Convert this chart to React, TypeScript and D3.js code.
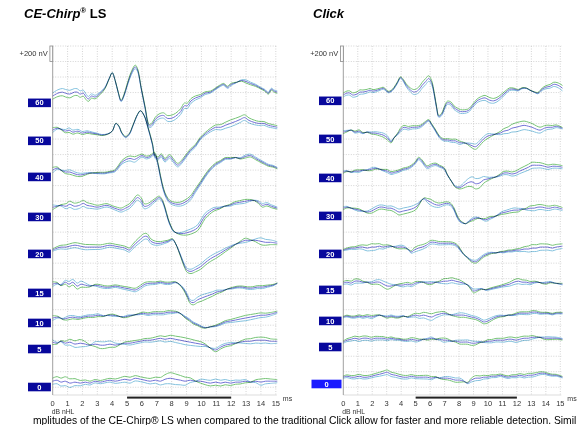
import React from 'react';
import * as d3 from 'd3';

type Pt = [number, number]; // [ms, nV]

const levels = ['60', '50', '40', '30', '20', '15', '10', '5', '0'];
const msTicks = [0, 1, 2, 3, 4, 5, 6, 7, 8, 9, 10, 11, 12, 13, 14, 15];
const markedWindow = [5, 12];

// baseline of each level (nV above the bottom of the plot)
const chirpBaselines = [3767, 3277, 2812, 2296, 1819, 1316, 929, 593, 103];
const clickBaselines = [3793, 3302, 2799, 2309, 1819, 1355, 955, 619, 142];

// CE-Chirp LS averages
const chirp60: Pt[] = [[0, 88], [0.35, 125], [0.65, 138], [0.85, 125], [1.15, 113], [1.45, 138], [1.65, 138], [1.85, 113], [2.05, 125], [2.25, 75], [2.4, 50], [2.6, 88], [2.85, 75], [3.2, 125], [3.5, 188], [3.8, 313], [4.0, 388], [4.2, 288], [4.4, 138], [4.6, 25], [4.8, 100], [5.0, 225], [5.3, 388], [5.55, 463], [5.7, 425], [5.95, 188], [6.2, -50], [6.5, -300], [6.7, -275], [6.9, -213], [7.15, -175], [7.45, -163], [7.7, -200], [7.95, -200], [8.25, -175], [8.6, -113], [8.85, -38], [9.05, -38], [9.3, 25], [9.6, 63], [9.95, 88], [10.25, 125], [10.6, 138], [10.9, 175], [11.2, 213], [11.5, 238], [11.75, 200], [12.0, 238], [12.35, 263], [12.7, 288], [13.0, 275], [13.3, 250], [13.65, 225], [14.0, 188], [14.25, 163], [14.5, 125], [14.7, 175], [14.9, 150], [15.1, 138]];
const chirp50: Pt[] = [[0, 138], [0.3, 163], [0.55, 150], [0.85, 125], [1.1, 138], [1.35, 113], [1.7, 125], [2.0, 100], [2.3, 113], [2.65, 100], [3.0, 88], [3.3, 75], [3.7, 88], [4.0, 125], [4.25, 225], [4.45, 188], [4.65, 100], [4.9, 50], [5.15, 88], [5.4, 200], [5.7, 338], [5.9, 388], [6.15, 325], [6.4, 175], [6.7, -38], [6.9, -213], [7.1, -225], [7.3, -188], [7.55, -250], [7.85, -200], [8.1, -250], [8.4, -313], [8.65, -275], [8.9, -213], [9.25, -125], [9.6, -63], [9.9, 25], [10.25, 88], [10.6, 138], [10.95, 175], [11.3, 175], [11.6, 200], [11.95, 225], [12.3, 250], [12.6, 275], [12.9, 300], [13.2, 263], [13.55, 238], [13.85, 225], [14.2, 225], [14.5, 200], [14.8, 188], [15.1, 175]];
const chirp40: Pt[] = [[0, 88], [0.3, 113], [0.55, 88], [0.85, 63], [1.15, 63], [1.5, 38], [1.85, 25], [2.2, 38], [2.5, 50], [2.85, 50], [3.2, 50], [3.5, 50], [3.85, 63], [4.15, 75], [4.4, 125], [4.65, 188], [4.95, 225], [5.2, 238], [5.5, 225], [5.75, 250], [6.0, 275], [6.3, 250], [6.55, 263], [6.85, 300], [7.05, 188], [7.25, 0], [7.45, -163], [7.65, -263], [7.9, -325], [8.25, -350], [8.6, -350], [8.9, -325], [9.25, -275], [9.6, -175], [9.95, -75], [10.25, 13], [10.6, 100], [10.95, 163], [11.3, 200], [11.6, 238], [11.95, 238], [12.3, 250], [12.6, 238], [12.95, 263], [13.3, 275], [13.65, 238], [14.0, 200], [14.25, 175], [14.5, 150], [14.8, 138], [15.1, 113]];
const chirp30: Pt[] = [[0, 125], [0.3, 138], [0.55, 150], [0.9, 138], [1.15, 163], [1.45, 138], [1.8, 150], [2.05, 175], [2.3, 150], [2.65, 138], [3.0, 125], [3.3, 138], [3.65, 150], [4.0, 125], [4.35, 100], [4.6, 88], [4.9, 113], [5.15, 138], [5.4, 188], [5.7, 250], [5.95, 213], [6.15, 138], [6.45, 150], [6.7, 188], [6.95, 225], [7.15, 250], [7.35, 213], [7.55, 113], [7.75, -25], [7.95, -125], [8.15, -188], [8.45, -213], [8.8, -213], [9.1, -200], [9.45, -175], [9.75, -138], [10.0, -63], [10.25, 13], [10.55, 63], [10.85, 100], [11.2, 113], [11.55, 138], [11.9, 150], [12.2, 175], [12.55, 188], [12.9, 200], [13.25, 213], [13.55, 213], [13.85, 188], [14.1, 150], [14.4, 163], [14.7, 138], [15.1, 113]];
const chirp20: Pt[] = [[0, 50], [0.3, 75], [0.55, 88], [0.9, 88], [1.15, 100], [1.5, 113], [1.85, 100], [2.2, 88], [2.5, 88], [2.85, 88], [3.2, 88], [3.5, 100], [3.85, 113], [4.2, 100], [4.55, 88], [4.85, 75], [5.15, 50], [5.35, 88], [5.6, 138], [5.9, 188], [6.15, 225], [6.35, 225], [6.6, 163], [6.9, 138], [7.25, 138], [7.5, 150], [7.75, 163], [8.05, 188], [8.25, 138], [8.45, 50], [8.65, -50], [8.85, -150], [9.05, -213], [9.3, -225], [9.6, -200], [9.95, -163], [10.25, -113], [10.6, -63], [10.95, -25], [11.3, 13], [11.6, 50], [11.95, 88], [12.3, 125], [12.6, 150], [12.95, 175], [13.3, 175], [13.65, 175], [14.0, 163], [14.3, 150], [14.65, 150], [15.1, 138]];
const chirp15: Pt[] = [[0, 113], [0.3, 125], [0.55, 100], [0.85, 138], [1.1, 113], [1.35, 138], [1.65, 88], [1.9, 113], [2.2, 100], [2.5, 88], [2.85, 100], [3.2, 88], [3.5, 75], [3.85, 75], [4.2, 88], [4.55, 75], [4.85, 63], [5.2, 50], [5.55, 38], [5.9, 75], [6.2, 113], [6.55, 125], [6.9, 125], [7.25, 138], [7.55, 125], [7.9, 125], [8.25, 138], [8.5, 113], [8.8, 50], [9.05, -38], [9.25, -113], [9.45, -125], [9.75, -88], [10.05, -63], [10.4, -38], [10.75, -13], [11.05, 13], [11.4, 25], [11.75, 50], [12.1, 63], [12.4, 75], [12.75, 75], [13.1, 63], [13.45, 63], [13.75, 75], [14.1, 75], [14.45, 88], [14.8, 100], [15.1, 125]];
const chirp10: Pt[] = [[0, 63], [0.35, 75], [0.7, 50], [1.0, 63], [1.35, 75], [1.7, 63], [2.05, 75], [2.4, 88], [2.7, 88], [3.05, 100], [3.4, 88], [3.7, 100], [4.05, 100], [4.4, 88], [4.75, 75], [5.05, 88], [5.4, 100], [5.75, 113], [6.1, 125], [6.4, 113], [6.75, 125], [7.1, 125], [7.45, 125], [7.75, 138], [8.1, 138], [8.4, 138], [8.65, 113], [8.9, 75], [9.2, 38], [9.45, 0], [9.75, -25], [10.0, -50], [10.25, -63], [10.6, -50], [10.95, -38], [11.3, -13], [11.6, 13], [11.95, 25], [12.3, 38], [12.6, 50], [12.95, 63], [13.3, 75], [13.65, 88], [14.0, 100], [14.3, 100], [14.65, 113], [15.1, 138]];
const chirp5: Pt[] = [[0, 88], [0.3, 75], [0.55, 100], [0.85, 75], [1.15, 88], [1.5, 63], [1.85, 75], [2.2, 63], [2.5, 50], [2.85, 63], [3.2, 50], [3.5, 50], [3.85, 63], [4.2, 50], [4.55, 63], [4.85, 75], [5.2, 75], [5.55, 88], [5.9, 100], [6.2, 113], [6.55, 113], [6.9, 125], [7.25, 138], [7.55, 125], [7.9, 138], [8.25, 125], [8.6, 113], [8.9, 100], [9.25, 88], [9.6, 75], [9.95, 63], [10.25, 50], [10.6, 13], [10.95, -13], [11.3, 25], [11.6, 50], [11.95, 63], [12.3, 75], [12.6, 88], [12.95, 100], [13.3, 100], [13.65, 113], [14.0, 113], [14.3, 113], [14.65, 100], [15.1, 100]];
const chirp0: Pt[] = [[0, 75], [0.3, 88], [0.55, 63], [0.85, 75], [1.15, 50], [1.5, 63], [1.85, 50], [2.2, 63], [2.5, 50], [2.85, 75], [3.2, 63], [3.5, 75], [3.85, 88], [4.2, 75], [4.55, 88], [4.85, 100], [5.2, 88], [5.55, 113], [5.9, 100], [6.2, 88], [6.55, 75], [6.9, 88], [7.25, 75], [7.55, 100], [7.9, 113], [8.25, 100], [8.6, 88], [8.9, 75], [9.25, 88], [9.6, 75], [9.95, 75], [10.25, 63], [10.6, 50], [10.95, 63], [11.3, 50], [11.6, 63], [11.95, 50], [12.3, 63], [12.6, 63], [12.95, 75], [13.3, 63], [13.65, 75], [14.0, 63], [14.3, 75], [14.65, 75], [15.1, 75]];

// half-difference between the two sub-averages (green above, cyan below when positive)
const chirpSpreads: Pt[][] = [
  [[0, -40], [1, -50], [2, -40], [3, -20], [4, 0], [5, 15], [5.5, 25], [6, 10], [7, 30], [8, 40], [9, 35], [10, 20], [11, 10], [12, 15], [13, -20], [14, -10], [15.1, -15]],
  [[0, 30], [1, -30], [2, -20], [3, -10], [4, 0], [5, 10], [6, 0], [7, 20], [8, 25], [9, 20], [10, 15], [11, 30], [12, 45], [13, 35], [14, 25], [15.1, 20]],
  [[0, 35], [1, -30], [2, -20], [3, 10], [4, 10], [5, 30], [5.5, 35], [6, 20], [7, 15], [8, 20], [9, 30], [10, 20], [11, 15], [12, 10], [13, -20], [14, -15], [15.1, -10]],
  [[0, -30], [1, 40], [2, 40], [3, 25], [4, 20], [5, 30], [6, 35], [7, 20], [8, 10], [9, -30], [10, -40], [11, -20], [12, 15], [13, 25], [14, -25], [15.1, -15]],
  [[0, 15], [1, 30], [2, 35], [3, 30], [4, 25], [5, 25], [6, 40], [7, 25], [8, 10], [9, -25], [10, -35], [11, -35], [12, -15], [13, 30], [14, -45], [15.1, -20]],
  [[0, 30], [1, -35], [2, -40], [3, 20], [4, 15], [5, 20], [6, 25], [7, 15], [8, 15], [9, -20], [10, -40], [11, -25], [12, 10], [13, 15], [14, 20], [15.1, 5]],
  [[0, 30], [1, -25], [2, -15], [3, -20], [4, 15], [5, -15], [6, 15], [7, 20], [8, 20], [9, -15], [10, -10], [11, 10], [12, 20], [13, 35], [14, 30], [15.1, 15]],
  [[0, -30], [1, 35], [2, 50], [3, -45], [4, -40], [5, 25], [6, 20], [7, 30], [8, 40], [9, 45], [10, 30], [11, -25], [12, -20], [13, 30], [14, 40], [15.1, 25]],
  [[0, 40], [1, 60], [2, 30], [3, 20], [4, 25], [5, 40], [6, 30], [7, 40], [8, 75], [9, 50], [10, -30], [11, -40], [12, -30], [13, -20], [14, 40], [15.1, 20]],
];

// Click averages
const click60: Pt[] = [[0, 75], [0.25, 100], [0.45, 100], [0.65, 75], [0.95, 88], [1.15, 113], [1.35, 113], [1.65, 125], [1.85, 138], [2.05, 125], [2.35, 138], [2.55, 150], [2.75, 163], [2.95, 138], [3.1, 113], [3.3, 125], [3.5, 163], [3.75, 238], [3.95, 300], [4.15, 263], [4.35, 200], [4.65, 138], [4.9, 113], [5.2, 138], [5.45, 200], [5.7, 250], [5.9, 288], [6.1, 238], [6.3, 75], [6.45, -88], [6.6, -200], [6.8, -175], [7.0, -88], [7.2, -25], [7.45, -38], [7.65, -88], [7.85, -113], [8.1, -138], [8.4, -138], [8.65, -125], [8.95, -63], [9.25, 0], [9.5, 25], [9.8, 38], [10.05, 13], [10.4, 0], [10.7, 25], [10.95, 63], [11.25, 113], [11.5, 150], [11.8, 150], [12.1, 138], [12.35, 163], [12.65, 163], [12.9, 138], [13.2, 113], [13.45, 100], [13.75, 150], [14.0, 175], [14.3, 188], [14.55, 213], [14.85, 200], [15.15, 163]];
const click50: Pt[] = [[0, 88], [0.25, 100], [0.55, 113], [0.8, 88], [1.1, 100], [1.35, 75], [1.65, 88], [1.95, 75], [2.2, 75], [2.5, 63], [2.75, 50], [3.05, 13], [3.3, -38], [3.5, 13], [3.75, 63], [4.0, 125], [4.2, 150], [4.5, 138], [4.8, 150], [5.05, 150], [5.35, 163], [5.6, 200], [5.9, 238], [6.1, 188], [6.4, 100], [6.65, 25], [6.95, -13], [7.2, -13], [7.5, -25], [7.75, -25], [8.05, -50], [8.3, -50], [8.6, -63], [8.9, -88], [9.15, -100], [9.45, -50], [9.7, 0], [10.0, 38], [10.25, 50], [10.55, 63], [10.85, 75], [11.1, 100], [11.4, 113], [11.65, 138], [11.95, 150], [12.2, 163], [12.5, 175], [12.8, 163], [13.05, 150], [13.35, 125], [13.6, 113], [13.9, 138], [14.15, 150], [14.45, 150], [14.7, 163], [15.15, 138]];
const click40: Pt[] = [[0, 75], [0.25, 88], [0.55, 75], [0.8, 88], [1.1, 88], [1.35, 100], [1.65, 100], [1.95, 113], [2.2, 125], [2.5, 113], [2.75, 100], [3.05, 88], [3.3, 63], [3.6, 75], [3.85, 88], [4.15, 113], [4.45, 125], [4.7, 150], [5.0, 200], [5.2, 250], [5.4, 225], [5.6, 175], [5.8, 138], [6.1, 163], [6.4, 175], [6.65, 150], [6.95, 125], [7.2, 38], [7.5, -50], [7.75, -113], [8.05, -125], [8.3, -100], [8.6, -63], [8.9, -50], [9.15, -75], [9.45, -63], [9.7, -25], [10.0, -13], [10.25, 0], [10.55, 13], [10.85, 38], [11.1, 63], [11.4, 63], [11.65, 50], [11.95, 63], [12.2, 88], [12.5, 113], [12.8, 138], [13.05, 163], [13.35, 163], [13.6, 163], [13.9, 150], [14.15, 138], [14.45, 150], [14.7, 150], [15.15, 138]];
const click30: Pt[] = [[0, 100], [0.25, 113], [0.55, 100], [0.8, 88], [1.1, 75], [1.35, 63], [1.65, 50], [1.95, 63], [2.2, 88], [2.5, 113], [2.75, 113], [3.05, 100], [3.3, 100], [3.6, 75], [3.85, 50], [4.15, 63], [4.45, 75], [4.7, 88], [5.0, 113], [5.2, 150], [5.4, 200], [5.6, 225], [5.8, 200], [6.05, 175], [6.3, 150], [6.6, 138], [6.85, 150], [7.15, 163], [7.4, 150], [7.65, 88], [7.85, 0], [8.05, -63], [8.25, -88], [8.45, -100], [8.75, -63], [9.0, -38], [9.3, -25], [9.55, -38], [9.85, -50], [10.15, -25], [10.4, -13], [10.7, 13], [10.95, 38], [11.25, 50], [11.5, 63], [11.8, 75], [12.1, 75], [12.35, 88], [12.65, 88], [12.9, 100], [13.2, 100], [13.45, 113], [13.75, 113], [14.05, 100], [14.3, 100], [14.6, 113], [15.15, 88]];
const click20: Pt[] = [[0, 50], [0.25, 63], [0.55, 75], [0.8, 75], [1.1, 88], [1.35, 88], [1.65, 75], [1.95, 88], [2.2, 88], [2.5, 100], [2.75, 88], [3.05, 100], [3.3, 100], [3.6, 88], [3.85, 88], [4.15, 88], [4.45, 63], [4.7, 25], [4.9, 50], [5.2, 75], [5.45, 88], [5.75, 113], [6.05, 150], [6.3, 150], [6.6, 138], [6.85, 138], [7.15, 138], [7.4, 138], [7.7, 125], [7.9, 100], [8.1, 50], [8.3, 0], [8.6, -50], [8.85, -88], [9.15, -100], [9.45, -63], [9.7, -25], [10.0, 0], [10.25, 13], [10.55, 13], [10.85, 25], [11.1, 25], [11.4, 38], [11.65, 38], [11.95, 50], [12.2, 50], [12.5, 63], [12.8, 63], [13.05, 75], [13.35, 75], [13.6, 88], [13.9, 88], [14.15, 88], [14.45, 75], [14.7, 88], [15.15, 100]];
const click15: Pt[] = [[0, 88], [0.25, 100], [0.55, 88], [0.8, 113], [1.1, 113], [1.35, 100], [1.65, 100], [1.95, 88], [2.2, 100], [2.5, 100], [2.75, 75], [3.05, 50], [3.3, 50], [3.6, 63], [3.85, 63], [4.15, 63], [4.45, 75], [4.7, 63], [5.0, 88], [5.25, 100], [5.55, 100], [5.8, 88], [6.1, 88], [6.4, 100], [6.65, 100], [6.95, 113], [7.2, 113], [7.5, 125], [7.75, 113], [8.05, 100], [8.3, 88], [8.6, 63], [8.8, 25], [9.0, -13], [9.3, 0], [9.55, 13], [9.85, 0], [10.15, 13], [10.4, 25], [10.7, 38], [10.95, 50], [11.25, 63], [11.5, 75], [11.8, 100], [12.1, 113], [12.35, 100], [12.65, 100], [12.9, 88], [13.2, 100], [13.45, 100], [13.75, 88], [14.05, 88], [14.3, 100], [14.6, 88], [15.15, 75]];
const click10: Pt[] = [[0, 50], [0.25, 63], [0.55, 50], [0.8, 50], [1.1, 63], [1.35, 50], [1.65, 63], [1.95, 50], [2.2, 63], [2.5, 75], [2.75, 63], [3.05, 50], [3.3, 63], [3.6, 50], [3.85, 50], [4.15, 63], [4.45, 50], [4.7, 63], [5.0, 75], [5.25, 63], [5.55, 75], [5.8, 63], [6.1, 50], [6.4, 75], [6.65, 88], [6.95, 100], [7.2, 88], [7.5, 75], [7.75, 75], [8.05, 75], [8.3, 75], [8.6, 63], [8.85, 50], [9.15, 38], [9.45, 13], [9.7, -13], [10.0, 0], [10.25, 25], [10.55, 50], [10.85, 63], [11.1, 63], [11.4, 75], [11.65, 75], [11.95, 88], [12.2, 100], [12.5, 100], [12.8, 100], [13.05, 113], [13.35, 113], [13.6, 100], [13.9, 100], [14.15, 100], [14.45, 88], [14.7, 100], [15.15, 100]];
const click5: Pt[] = [[0, 63], [0.25, 88], [0.55, 100], [0.8, 113], [1.1, 100], [1.35, 113], [1.65, 113], [1.95, 100], [2.2, 113], [2.5, 113], [2.75, 113], [3.05, 100], [3.3, 113], [3.6, 100], [3.85, 100], [4.15, 88], [4.45, 88], [4.7, 100], [5.0, 88], [5.25, 88], [5.55, 100], [5.8, 100], [6.1, 113], [6.4, 100], [6.65, 100], [6.95, 88], [7.2, 88], [7.5, 75], [7.75, 75], [8.05, 63], [8.3, 63], [8.6, 63], [8.85, 50], [9.15, 50], [9.45, 63], [9.7, 63], [10.0, 75], [10.25, 75], [10.55, 88], [10.85, 88], [11.1, 88], [11.4, 100], [11.65, 100], [11.95, 88], [12.2, 100], [12.5, 113], [12.8, 113], [13.05, 125], [13.35, 125], [13.6, 125], [13.9, 113], [14.15, 113], [14.45, 113], [14.7, 113], [15.15, 100]];
const click0: Pt[] = [[0, 88], [0.25, 100], [0.55, 88], [0.8, 88], [1.1, 100], [1.35, 88], [1.65, 88], [1.95, 100], [2.2, 113], [2.5, 125], [2.75, 138], [3.05, 150], [3.3, 125], [3.6, 113], [3.85, 100], [4.15, 88], [4.45, 88], [4.7, 100], [5.0, 88], [5.25, 88], [5.55, 88], [5.8, 88], [6.1, 75], [6.4, 88], [6.65, 75], [6.95, 75], [7.2, 75], [7.5, 63], [7.75, 50], [8.05, 50], [8.3, 38], [8.6, 13], [8.85, 50], [9.15, 75], [9.45, 75], [9.7, 88], [10.0, 88], [10.25, 100], [10.55, 100], [10.85, 113], [11.1, 100], [11.4, 88], [11.65, 100], [11.95, 100], [12.2, 113], [12.5, 100], [12.8, 113], [13.05, 113], [13.35, 125], [13.6, 138], [13.9, 138], [14.15, 125], [14.45, 113], [14.7, 113], [15.15, 88]];

const clickSpreads: Pt[][] = [
  [[0, 25], [1, 30], [2, 20], [3, 10], [4, 10], [5, 35], [5.8, 40], [6.5, 10], [7, 20], [8, 25], [9, 20], [10, 35], [11, 25], [12, 10], [13, 0], [14, 20], [15.15, 35]],
  [[0, -20], [1, 20], [2, -15], [3, -30], [4, 25], [5, 20], [6, 10], [7, 15], [8, 25], [9, -35], [10, -30], [11, 30], [12, 60], [13, 50], [14, 30], [15.15, 10]],
  [[0, -15], [1, 20], [2, -20], [3, 20], [4, 15], [5, 15], [6, 20], [7, 10], [8, -15], [9, -70], [9.5, -60], [10, -20], [11, 20], [12, 30], [13, 40], [14, 30], [15.15, 20]],
  [[0, -20], [1, 20], [2, -30], [3, -25], [4, -40], [5, -35], [6, 40], [7, 20], [8, 15], [9, -20], [10, 25], [11, -20], [12, -30], [13, 35], [14, 30], [15.15, 20]],
  [[0, 10], [1, 20], [2, 45], [3, 20], [4, -30], [5, 35], [6, 25], [7, 20], [8, 15], [9, -20], [10, -15], [11, 10], [12, 15], [13, 45], [14, 40], [15.15, 30]],
  [[0, 20], [1, 30], [2, -20], [3, -45], [4, 25], [5, 20], [6, -25], [7, 35], [8, 30], [9, -25], [10, 10], [11, 15], [12, 35], [13, 20], [14, -15], [15.15, 10]],
  [[0, 10], [1, 15], [2, 20], [3, -15], [4, -10], [5, 25], [6, 45], [7, 20], [8, -30], [9, -20], [10, -25], [11, -10], [12, 15], [13, 20], [14, 10], [15.15, 10]],
  [[0, 15], [1, 30], [2, 25], [3, 20], [4, 10], [5, 25], [6, -20], [7, 30], [8, -25], [9, -30], [10, 20], [11, 25], [12, 30], [13, 25], [14, -20], [15.15, -10]],
  [[0, 15], [1, 25], [2, 20], [3, 30], [4, 25], [5, 20], [6, 25], [7, -20], [8, -30], [9, 35], [10, 20], [11, 15], [12, 20], [13, 25], [14, 15], [15.15, 10]],
];

const chirpTraces = [chirp60, chirp50, chirp40, chirp30, chirp20, chirp15, chirp10, chirp5, chirp0];
const clickTraces = [click60, click50, click40, click30, click20, click15, click10, click5, click0];

const FONT = "Arial, 'Liberation Sans', sans-serif";
const TOP = 46;
const BOTTOM = 395;
const NV_MAX = 4500;

interface PanelProps {
  axisX: number;
  endX: number;
  boxLeft: number;
  traces: Pt[][];
  spreads: Pt[][];
  baselines: number[];
  selected?: number;
}

const Panel: React.FC<PanelProps> = ({ axisX, endX, boxLeft, traces, spreads, baselines, selected }) => {
  const x = d3.scaleLinear().domain([0, 15]).range([axisX, endX]);
  const y = d3.scaleLinear().domain([0, NV_MAX]).range([BOTTOM, TOP]);
  const gridNv = d3.range(NV_MAX, 0, -200);

  return (
    <g>
      {/* dotted grid */}
      {msTicks.slice(1).map((t) => (
        <line key={'v' + t} x1={x(t)} x2={x(t)} y1={TOP} y2={BOTTOM}
          stroke="#c9c9c9" strokeWidth={0.8} strokeDasharray="1,1.5" />
      ))}
      {gridNv.map((v) => (
        <line key={'h' + v} x1={axisX} x2={endX + 1} y1={y(v)} y2={y(v)}
          stroke="#c9c9c9" strokeWidth={0.8} strokeDasharray="1,1.5" />
      ))}
      <line x1={axisX} x2={endX + 1} y1={BOTTOM} y2={BOTTOM} stroke="#d4d4d4" strokeWidth={0.8} />
      <line x1={axisX} x2={axisX} y1={TOP} y2={BOTTOM} stroke="#a0a0a0" strokeWidth={1} />

      {/* 200 nV scale */}
      <rect x={axisX - 2.8} y={y(NV_MAX)} width={2.8} height={y(NV_MAX - 200) - y(NV_MAX)}
        fill="#fff" stroke="#8a8a8a" strokeWidth={0.8} />
      <text x={axisX - 5} y={55.5} textAnchor="end" fontFamily={FONT} fontSize={7.5} fill="#333">+200 nV</text>

      {/* waveforms: two sub-averages and their mean */}
      {traces.map((trace, i) => {
        const sp = spreads[i];
        const spread = d3.scaleLinear().domain(sp.map((d) => d[0])).range(sp.map((d) => d[1]));
        const line = d3.line<Pt>()
          .x((d) => x(d[0]))
          .y((d) => y(baselines[i] + d[1]))
          .curve(d3.curveCatmullRom.alpha(0.5));
        const green = trace.map(([t, v]) => [t, v + spread(t)] as Pt);
        const cyan = trace.map(([t, v]) => [t, v - spread(t)] as Pt);
        return (
          <g key={i} fill="none" strokeWidth={1}>
            <path d={line(green) || ''} stroke="#76c476" style={{ mixBlendMode: 'multiply' }} />
            <path d={line(cyan) || ''} stroke="#84c2de" style={{ mixBlendMode: 'multiply' }} />
            <path d={line(trace) || ''} stroke="#7272d6" style={{ mixBlendMode: 'multiply' }} />
          </g>
        );
      })}

      {/* level labels */}
      {levels.map((lv, i) => {
        const cy = y(baselines[i]);
        const sel = i === selected;
        const left = sel ? boxLeft - 7.5 : boxLeft;
        const right = axisX - 1.8;
        return (
          <g key={lv}>
            <rect x={left} y={cy - 4.3} width={right - left} height={8.6} fill={sel ? '#1a1aff' : '#08089c'} />
            <text x={(left + right) / 2} y={cy + 2.6} textAnchor="middle" fontFamily={FONT}
              fontSize={7.5} fontWeight="bold" fill="#fff">{lv}</text>
          </g>
        );
      })}

      {/* time axis */}
      <rect x={x(markedWindow[0])} y={396.6} width={x(markedWindow[1]) - x(markedWindow[0])} height={2}
        fill="#222" />
      {msTicks.map((t) => (
        <text key={'t' + t} x={x(t)} y={405.5} textAnchor="middle" fontFamily={FONT} fontSize={7.5} fill="#333">{t}</text>
      ))}
      <text x={endX + 7} y={401} fontFamily={FONT} fontSize={7} fill="#333">ms</text>
      <text x={axisX - 1} y={414} fontFamily={FONT} fontSize={6.8} fill="#333">dB nHL</text>
    </g>
  );
};

export default function App() {
  return (
    <svg width={582} height={425} style={{ position: 'absolute', left: 0, top: 0, background: '#fff' }}>
      <rect width={582} height={425} fill="#fff" />
      <text x={24} y={17.5} fontFamily={FONT} fontSize={13} fontWeight="bold" fill="#000">
        <tspan fontStyle="italic">CE-Chirp</tspan>
        <tspan fontSize={8} dy={-5}>®</tspan>
        <tspan dy={5}> LS</tspan>
      </text>
      <text x={313} y={17.5} fontFamily={FONT} fontSize={13} fontWeight="bold" fontStyle="italic" fill="#000">Click</text>

      <Panel axisX={52.7} endX={275.8} boxLeft={28} traces={chirpTraces} spreads={chirpSpreads} baselines={chirpBaselines} />
      <Panel axisX={343.3} endX={560.3} boxLeft={319} traces={clickTraces} spreads={clickSpreads} baselines={clickBaselines} selected={8} />

      <text x={33} y={424.2} fontFamily={FONT} fontSize={10.3} fill="#000">
        mplitudes of the CE-Chirp® LS when compared to the traditional Click allow for faster and more reliable detection. Simil
      </text>
    </svg>
  );
}
